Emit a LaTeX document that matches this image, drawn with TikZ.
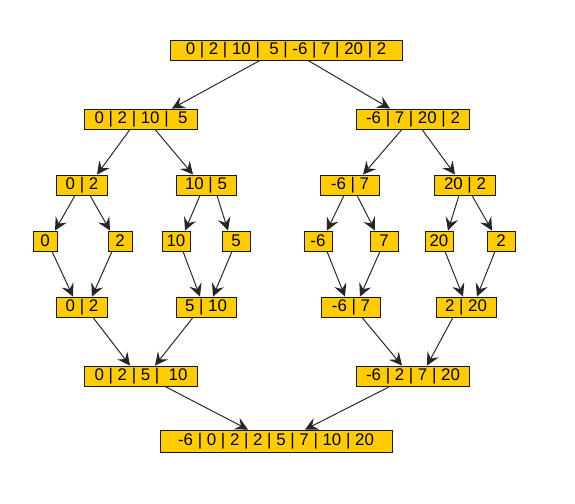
\documentclass[tikz,border=0pt]{standalone}
\usepackage{fontspec}
\setmainfont{Liberation Sans}
\usetikzlibrary{arrows.meta, calc, positioning}

\definecolor{boxyellow}{HTML}{FFCC00}

\begin{document}
\begin{tikzpicture}[x=0.025cm, y=-0.025cm, >={Stealth[length=3.2mm, width=3.2mm, inset=1.2mm]},
    font=\fontsize{12}{14}\selectfont,
    cell/.style={draw=black!90, fill=boxyellow, rectangle, inner sep=0pt, minimum height=0.5cm, line width=0.6pt},
    link/.style={->, draw=black!85, line width=0.7pt}]

\useasboundingbox (0,0) rectangle (575,504);

% split
\node[cell, minimum width=5.8cm] (all) at (286,50) {0 | 2 | 10 | ~5 | -6 | 7 | 20 | 2};
\node[cell, minimum width=2.825cm] (half1) at (141,119) {0 | 2 | 10 | ~5};
\node[cell, minimum width=2.825cm] (half2) at (413,119) {-6 | 7 | 20 | 2};
\node[cell, minimum width=1.275cm] (q1) at (82,185) {0 | 2};
\node[cell, minimum width=1.5cm] (q2) at (206,185) {10 | 5};
\node[cell, minimum width=1.475cm] (q3) at (350,185) {-6 | 7};
\node[cell, minimum width=1.525cm] (q4) at (465,185) {20 | 2};

% single elements
\node[cell, minimum width=0.6cm] (e1) at (45,241) {0};
\node[cell, minimum width=0.6cm] (e2) at (120,241) {2};
\node[cell, minimum width=0.7cm] (e3) at (176,241) {10};
\node[cell, minimum width=0.7cm] (e4) at (236,241) {5};
\node[cell, minimum width=0.7cm] (e5) at (318,241) {-6};
\node[cell, minimum width=0.7cm] (e6) at (384,241) {7};
\node[cell, minimum width=0.7cm] (e7) at (439,241) {20};
\node[cell, minimum width=0.7cm] (e8) at (501,241) {2};

% merge
\node[cell, minimum width=1.275cm] (m1) at (82,307) {0 | 2};
\node[cell, minimum width=1.5cm] (m2) at (206,307) {5 | 10};
\node[cell, minimum width=1.475cm] (m3) at (351,307) {-6 | 7};
\node[cell, minimum width=1.5cm] (m4) at (466,307) {2 | 20};
\node[cell, minimum width=2.825cm] (s1) at (141,376) {0 | 2 | 5 | ~10};
\node[cell, minimum width=2.825cm] (s2) at (413,376) {-6 | 2 | 7 | 20};
\node[cell, minimum width=5.8cm, minimum height=0.55cm] (sorted) at (276,441) {-6 | 0 | 2 | 2 | 5 | 7 | 10 | 20};

\draw[link] ($(all.south)+(-26,0)$) -- ($(half1.north)+(31,0)$);
\draw[link] ($(all.south)+(22,0)$) -- ($(half2.north)+(-23,0)$);
\draw[link] ($(half1.south)+(-11,0)$) -- ($(q1.north)+(15,0)$);
\draw[link] ($(half1.south)+(14,0)$) -- ($(q2.north)+(-13,0)$);
\draw[link] ($(half2.south)+(-11,0)$) -- ($(q3.north)+(13,0)$);
\draw[link] ($(half2.south)+(9,0)$) -- ($(q4.north)+(-10,0)$);

\draw[link] ($(q1.south)+(-7,0)$) -- ($(e1.north)+(10,0)$);
\draw[link] ($(q1.south)+(8,0)$) -- ($(e2.north)+(-10,0)$);
\draw[link] ($(q2.south)+(-6,0)$) -- ($(e3.north)+(9,0)$);
\draw[link] ($(q2.south)+(11,0)$) -- ($(e4.north)+(-8,0)$);
\draw[link] ($(q3.south)+(-6,0)$) -- ($(e5.north)+(9,0)$);
\draw[link] ($(q3.south)+(7,0)$) -- ($(e6.north)+(-9,0)$);
\draw[link] ($(q4.south)+(-6,0)$) -- ($(e7.north)+(9,0)$);
\draw[link] ($(q4.south)+(7,0)$) -- ($(e8.north)+(-9,0)$);

\draw[link] ($(e1.south)+(7,0)$) -- ($(m1.north)+(-9,0)$);
\draw[link] ($(e2.south)+(-8,0)$) -- ($(m1.north)+(10,0)$);
\draw[link] ($(e3.south)+(7,0)$) -- ($(m2.north)+(-6,0)$);
\draw[link] ($(e4.south)+(-4,0)$) -- ($(m2.north)+(7,0)$);
\draw[link] ($(e5.south)+(9,0)$) -- ($(m3.north)+(-6,0)$);
\draw[link] ($(e6.south)+(-4,0)$) -- ($(m3.north)+(9,0)$);
\draw[link] ($(e7.south)+(6,0)$) -- ($(m4.north)+(-3,0)$);
\draw[link] ($(e8.south)+(-6,0)$) -- ($(m4.north)+(11,0)$);

\draw[link] ($(m1.south)+(11,0)$) -- ($(s1.north)+(-11,0)$);
\draw[link] ($(m2.south)+(-13,0)$) -- ($(s1.north)+(14,0)$);
\draw[link] ($(m3.south)+(11,0)$) -- ($(s2.north)+(-11,0)$);
\draw[link] ($(m4.south)+(-13,0)$) -- ($(s2.north)+(14,0)$);
\draw[link] ($(s1.south)+(24,0)$) -- ($(sorted.north)+(-28,0)$);
\draw[link] ($(s2.south)+(-23,0)$) -- ($(sorted.north)+(29,0)$);

\end{tikzpicture}
\end{document}
